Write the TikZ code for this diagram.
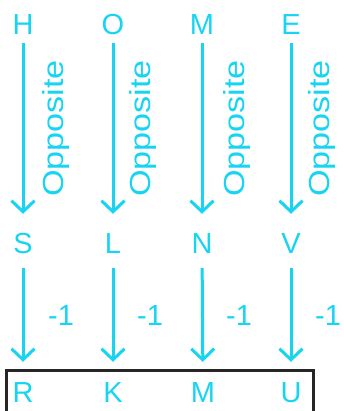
\documentclass[tikz,border=0pt]{standalone}
\usepackage{fontspec}
\setmainfont{Liberation Sans}
\usetikzlibrary{arrows.meta}
\definecolor{cy}{RGB}{22,212,242}
\begin{document}
\begin{tikzpicture}[x=1pt,y=-1pt,
  letter/.style={text=cy,font=\fontsize{29}{32}\selectfont,inner sep=0pt,text height=21pt,text depth=0pt},
  lbl/.style={text=cy,font=\fontsize{29}{32}\selectfont,inner sep=0pt},
  arr/.style={draw=cy,line width=3pt,-{Straight Barb[length=11pt,width=23pt]}},
  oparr/.style={arr,shorten <=8.5pt,shorten >=18.5pt},
  mnarr/.style={arr,shorten <=14.5pt,shorten >=19.5pt}]
\useasboundingbox (0,0) rectangle (343,411);
\clip (0,0) rectangle (343,411);
% top row
\node[letter] (h) at (23,24) {H};
\node[letter] (o) at (113,24) {O};
\node[letter] (m1) at (202,24) {M};
\node[letter] (e) at (291,24) {E};
% middle row
\node[letter] (s) at (23,243) {S};
\node[letter] (l) at (113,243) {L};
\node[letter] (n) at (202,243) {N};
\node[letter] (v) at (291,243) {V};
% bottom row
\node[letter] (r) at (23,392) {R};
\node[letter] (k) at (113,392) {K};
\node[letter] (m2) at (203,392) {M};
\node[letter] (u) at (291,392) {U};
% arrows
\draw[oparr] (h) -- (s);
\draw[oparr] (o) -- (l);
\draw[oparr] (m1) -- (n);
\draw[oparr] (e) -- (v);
\draw[mnarr] (s) -- (r);
\draw[mnarr] (l) -- (k);
\draw[mnarr] (n) -- (m2);
\draw[mnarr] (v) -- (u);
% labels
\foreach \nm/\x in {op1/56,op2/143,op3/237,op4/322}{
  \node[lbl,rotate=90] (\nm) at (\x,128.5) {\scalebox{1.18}[1]{Opposite}};
}
\foreach \nm/\x in {mi1/61,mi2/150,mi3/239,mi4/328}{
  \node[lbl] (\nm) at (\x,316) {-1};
}
% answer box
\node[draw=black!85,line width=2.5pt,minimum width=307pt,minimum height=60pt,inner sep=0pt,anchor=north west] (box) at (5,369) {};
\end{tikzpicture}
\end{document}
